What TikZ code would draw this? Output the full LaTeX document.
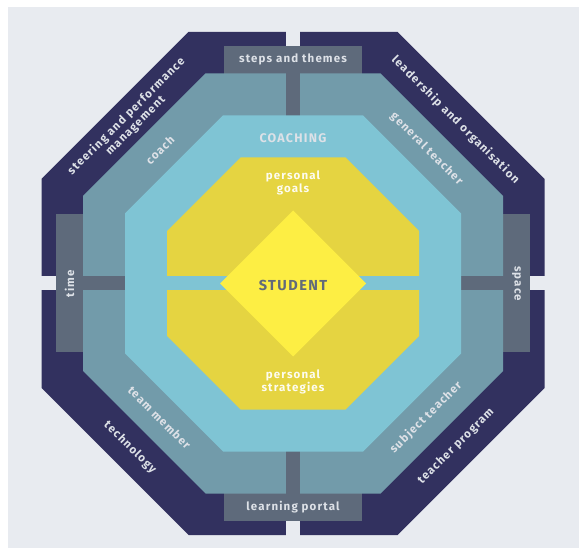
\documentclass[tikz,border=0pt]{standalone}
\usepackage{fontspec}
\setmainfont{Fira Sans}
\newfontfamily\lblfont{Fira Sans}[LetterSpace=10]
\definecolor{bgc}{HTML}{E8EBF0}
\definecolor{navyc}{HTML}{32315F}
\definecolor{slatec}{HTML}{5E6A7B}
\definecolor{tealc}{HTML}{729BAA}
\definecolor{lbluec}{HTML}{7FC4D4}
\definecolor{yelc}{HTML}{E5D441}
\definecolor{byelc}{HTML}{FDEE44}
\definecolor{txtc}{HTML}{DDE1E7}
\definecolor{stuc}{HTML}{626A7A}
\newcommand{\octo}[2]{(293-#1+#2,283.5-#1) -- (293+#1-#2,283.5-#1) -- (293+#1,283.5-#1+#2) -- (293+#1,283.5+#1-#2) -- (293+#1-#2,283.5+#1) -- (293-#1+#2,283.5+#1) -- (293-#1,283.5+#1-#2) -- (293-#1,283.5-#1+#2) -- cycle}
\begin{document}
\begin{tikzpicture}[x=1pt,y=-1pt,
  lbl/.style={text=txtc,font=\lblfont\bfseries\fontsize{11.5}{13}\selectfont,inner sep=0pt,align=center},
  biglbl/.style={text=txtc,font=\lblfont\bfseries\fontsize{12.5}{14}\selectfont,inner sep=0pt,align=center},
  ylbl/.style={text=white!92!yelc,font=\lblfont\bfseries\fontsize{11.5}{13}\selectfont,inner sep=0pt,align=center}]
\useasboundingbox (0,0) rectangle (587,548);
\fill[white] (0,0) rectangle (587,548);
\fill[bgc] (8,7) rectangle (579,548);
% navy ring
\fill[navyc] \octo{251.5}{147};
% gaps in navy ring
\fill[bgc] (286,28) rectangle (300,540);
\fill[bgc] (38,276.5) rectangle (548,290.5);
% grey boxes
\fill[slatec] (224,46.5) rectangle (362,80);
\fill[slatec] (224,487) rectangle (362,521);
\fill[slatec] (56,214.5) rectangle (90,352.5);
\fill[slatec] (496,214.5) rectangle (530,352.5);
% teal ring
\fill[tealc] \octo{210}{122.5};
% grey cross
\fill[slatec] (286,70) rectangle (300,497);
\fill[slatec] (80,276.5) rectangle (506,290.5);
% light blue
\fill[lbluec] \octo{168}{98};
% yellow
\fill[yelc] \octo{126}{73.5};
\fill[lbluec] (160,276.5) rectangle (426,290.5);
% student diamond
\fill[byelc] (293,210.5) -- (366,283.5) -- (293,356.5) -- (220,283.5) -- cycle;
% labels
\node[lbl] (steps) at (293,59.5) {steps and themes};
\node[lbl] (portal) at (293,507.5) {learning portal};
\node[lbl,rotate=90] (time) at (69.5,283.5) {time};
\node[lbl,rotate=-90] (space) at (516.5,283.5) {space};
\node[lbl,rotate=45] (steer) at (131,121) {steering and performance\\management};
\node[lbl,rotate=-45] (lead) at (455.5,120) {leadership and organisation};
\node[lbl,rotate=-45] (techn) at (130,447.5) {technology};
\node[lbl,rotate=45] (tprog) at (456,446.5) {teacher program};
\node[lbl,rotate=45] (coach) at (160,150) {coach};
\node[lbl,rotate=-45] (gteach) at (426.5,149) {general teacher};
\node[lbl,rotate=-45] (team) at (159.5,417.5) {team member};
\node[lbl,rotate=45] (steach) at (426,417.5) {subject teacher};
\node[biglbl] (coaching) at (293,138) {COACHING};
\node[ylbl] (goals) at (293,183) {personal\\goals};
\node[ylbl] (strat) at (293,382) {personal\\strategies};
\node[text=stuc,font=\lblfont\bfseries\fontsize{14.5}{16}\selectfont,inner sep=0pt] (student) at (293,285) {STUDENT};
\end{tikzpicture}
\end{document}
